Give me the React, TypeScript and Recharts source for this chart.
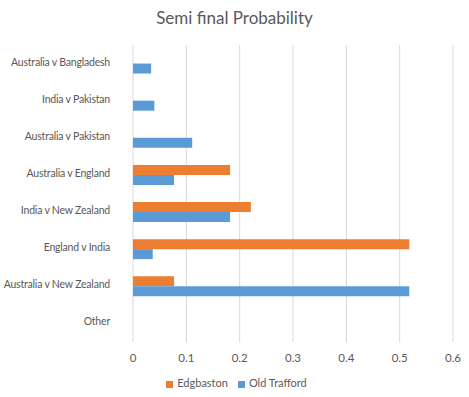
import React from "react";
import {
  BarChart,
  Bar,
  XAxis,
  YAxis,
  CartesianGrid,
  Legend,
} from "recharts";

const matches = [
  "Australia v Bangladesh",
  "India v Pakistan",
  "Australia v Pakistan",
  "Australia v England",
  "India v New Zealand",
  "England v India",
  "Australia v New Zealand",
  "Other",
];
const edgbaston = [0, 0, 0, 0.182, 0.221, 0.518, 0.077, 0];
const oldTrafford = [0.034, 0.04, 0.111, 0.077, 0.182, 0.037, 0.518, 0];
const xTicks = [0, 0.1, 0.2, 0.3, 0.4, 0.5, 0.6];

const data = matches.map((name, i) => ({
  name,
  edgbaston: edgbaston[i],
  oldTrafford: oldTrafford[i],
}));

const font = "Lato, 'Open Sans', sans-serif";
const grey = "#595959";

const CategoryTick = (props: any) => {
  const { x, y, payload } = props;
  return (
    <text
      x={x - 15}
      y={y}
      dy={2}
      textAnchor="end"
      fill={grey}
      fontSize={10.5}
      letterSpacing={-0.2}
      fontFamily={font}
    >
      {payload.value}
    </text>
  );
};

const App = () => {
  return (
    <div
      style={{
        position: "absolute",
        left: 0,
        top: 0,
        width: 469,
        height: 397,
        background: "#fff",
        fontFamily: font,
      }}
    >
      <div
        style={{
          position: "absolute",
          top: 7,
          width: 469,
          textAlign: "center",
          fontSize: 17,
          color: grey,
        }}
      >
        Semi final Probability
      </div>
      <BarChart
        width={469}
        height={397}
        data={data}
        layout="vertical"
        margin={{ top: 45, right: 16, bottom: 16, left: 0 }}
        barCategoryGap="23%"
        barGap={0}
      >
        <CartesianGrid horizontal={false} stroke="#d9d9d9" />
        <XAxis
          type="number"
          domain={[0, 0.6]}
          ticks={xTicks}
          axisLine={false}
          tickLine={false}
          tick={{ fill: grey, fontSize: 11.5, fontFamily: font }}
          tickMargin={6}
          height={26}
        />
        <YAxis
          type="category"
          dataKey="name"
          width={133}
          axisLine={false}
          tickLine={false}
          tick={<CategoryTick />}
        />
        <Legend
          verticalAlign="bottom"
          align="center"
          iconType="square"
          iconSize={7}
          formatter={(value: any) => <span style={{ color: grey }}>{value}</span>}
          wrapperStyle={{ fontSize: 11, fontFamily: font, bottom: 8, paddingLeft: 15 }}
        />
        <Bar
          dataKey="edgbaston"
          name="Edgbaston"
          fill="#ed7d31"
          isAnimationActive={false}
        />
        <Bar
          dataKey="oldTrafford"
          name="Old Trafford"
          fill="#5b9bd5"
          isAnimationActive={false}
        />
      </BarChart>
    </div>
  );
};

export default App;
